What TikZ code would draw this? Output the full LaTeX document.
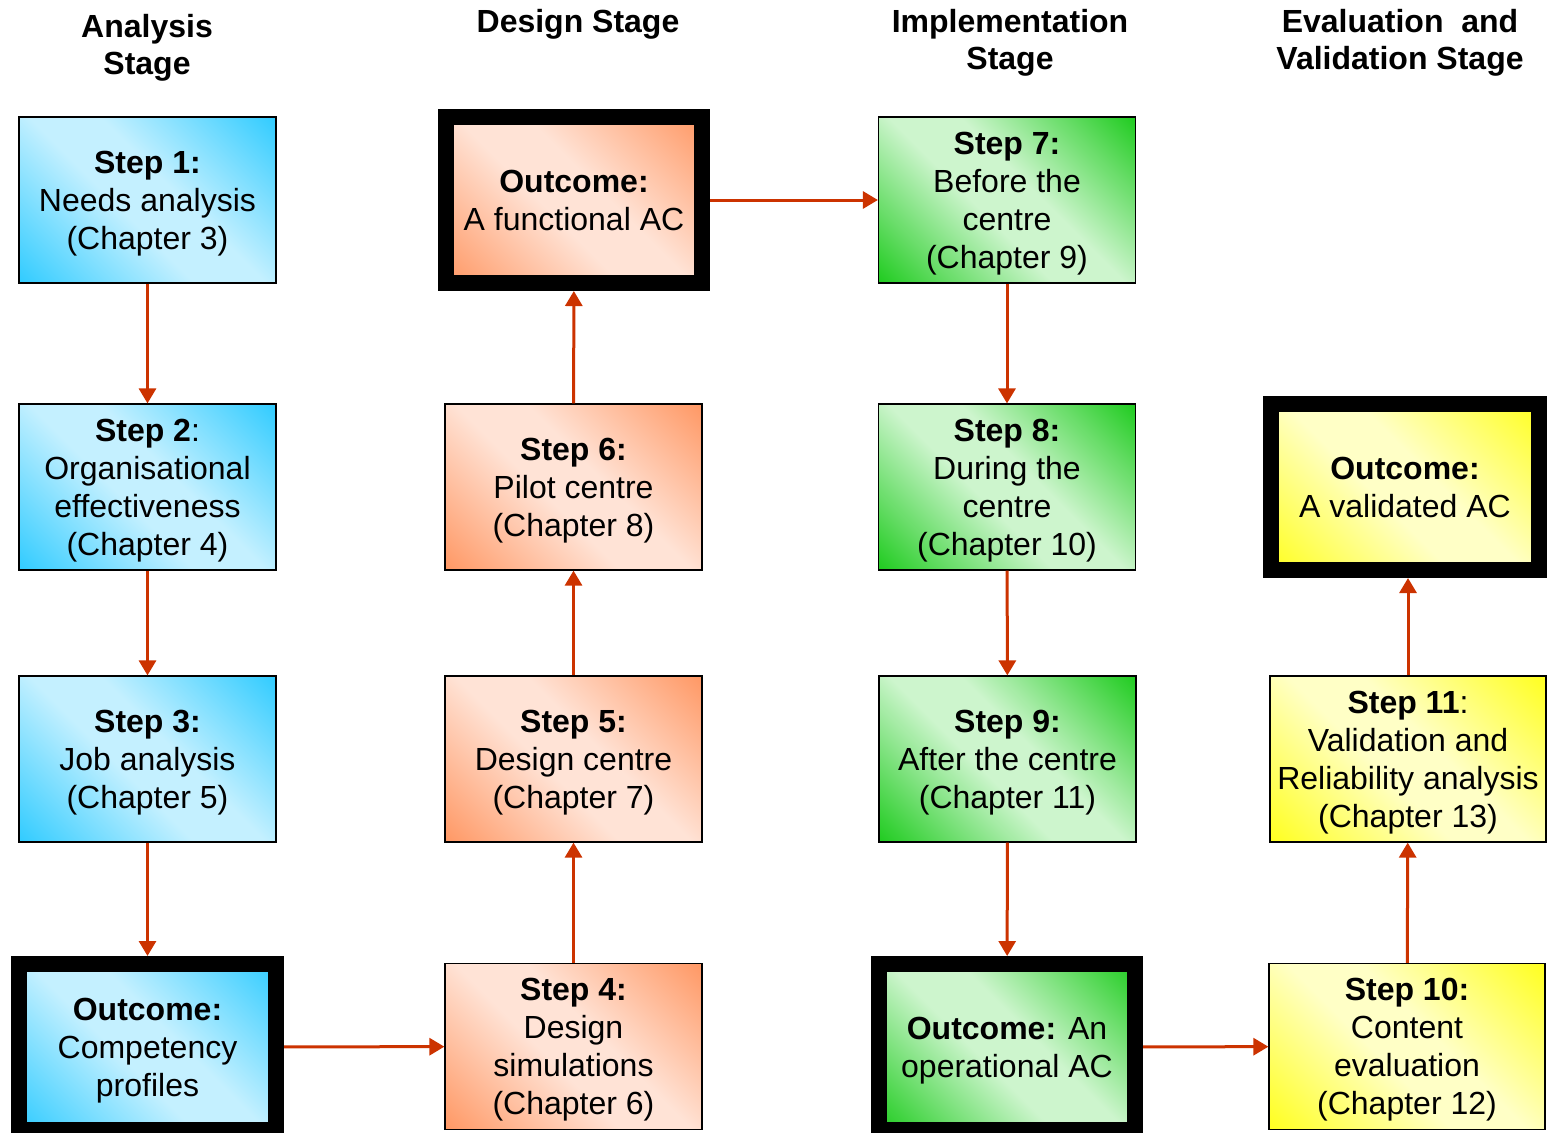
\documentclass[tikz,border=0pt]{standalone}
\usepackage{fontspec}
\setmainfont{Liberation Sans}
\usetikzlibrary{arrows.meta}

\definecolor{bluedeep}{HTML}{33CCFF}
\definecolor{bluelight}{HTML}{C4F0FF}
\definecolor{orangedeep}{HTML}{FF9966}
\definecolor{orangelight}{HTML}{FFE3D6}
\definecolor{greendeep}{HTML}{22CC22}
\definecolor{greenlight}{HTML}{CDF5CD}
\definecolor{yellowdeep}{HTML}{FFFF22}
\definecolor{yellowlight}{HTML}{FFFFC6}
\definecolor{arrowred}{HTML}{CC3300}

\pgfdeclarehorizontalshading{blueshade}{100bp}{color(0bp)=(bluedeep); color(15bp)=(bluedeep); color(44bp)=(bluelight); color(56bp)=(bluelight); color(85bp)=(bluedeep); color(100bp)=(bluedeep)}
\pgfdeclarehorizontalshading{orangeshade}{100bp}{color(0bp)=(orangedeep); color(15bp)=(orangedeep); color(44bp)=(orangelight); color(56bp)=(orangelight); color(85bp)=(orangedeep); color(100bp)=(orangedeep)}
\pgfdeclarehorizontalshading{greenshade}{100bp}{color(0bp)=(greendeep); color(15bp)=(greendeep); color(44bp)=(greenlight); color(56bp)=(greenlight); color(85bp)=(greendeep); color(100bp)=(greendeep)}
\pgfdeclarehorizontalshading{yellowshade}{100bp}{color(0bp)=(yellowdeep); color(15bp)=(yellowdeep); color(44bp)=(yellowlight); color(56bp)=(yellowlight); color(85bp)=(yellowdeep); color(100bp)=(yellowdeep)}

\begin{document}
\begin{tikzpicture}[x=0.5pt, y=-0.5pt,
  box/.style={draw=black, line width=0.6pt, minimum width=128.5pt, minimum height=83pt,
    inner sep=0pt, align=center, text depth=-0.5pt, shading angle=45,
    font=\fontsize{16}{19}\selectfont},
  outcome/.style={box, line width=8pt},
  link/.style={draw=arrowred, line width=1.5pt, -{Triangle[width=8.5pt,length=7.5pt]}},
  head/.style={align=center, font=\bfseries\fontsize{16}{18.5}\selectfont}]
\useasboundingbox (0,0) rectangle (1547,1132);

% stage titles
\node[head] (hanalysis) at (147,48)  {Analysis\\Stage};
\node[head] (hdesign)   at (578,24)  {Design Stage};
\node[head] (himpl)     at (1010,43) {Implementation\\Stage};
\node[head] (heval)     at (1400,43) {Evaluation~ and\\Validation Stage};

% analysis
\node[box, shading=blueshade] (s1) at (147.5,200) {\textbf{Step 1:}\\Needs analysis\\(Chapter 3)};
\node[box, shading=blueshade] (s2) at (147.5,487) {\textbf{Step 2}:\\Organisational\\effectiveness\\(Chapter 4)};
\node[box, shading=blueshade] (s3) at (147.5,759) {\textbf{Step 3:}\\Job analysis\\(Chapter 5)};
\node[outcome, shading=blueshade] (o1) at (147.5,1047) {\textbf{Outcome:}\\Competency\\profiles};

% design
\node[box, shading=orangeshade] (s4) at (573.5,1046.5) {\textbf{Step 4:}\\Design\\simulations\\(Chapter 6)};
\node[box, shading=orangeshade] (s5) at (573.5,759) {\textbf{Step 5:}\\Design centre\\(Chapter 7)};
\node[box, shading=orangeshade] (s6) at (573.5,487) {\textbf{Step 6:}\\Pilot centre\\(Chapter 8)};
\node[outcome, shading=orangeshade, minimum width=128pt] (o2) at (574,200) {\textbf{Outcome:}\\A functional AC};

% implementation
\node[box, shading=greenshade] (s7) at (1007,200) {\textbf{Step 7:}\\Before the\\centre\\(Chapter 9)};
\node[box, shading=greenshade] (s8) at (1007,487) {\textbf{Step 8:}\\During the\\centre\\(Chapter 10)};
\node[box, shading=greenshade] (s9) at (1007.5,759) {\textbf{Step 9:}\\After the centre\\(Chapter 11)};
\node[outcome, shading=greenshade, minimum width=128pt] (o3) at (1007,1047) {\textbf{Outcome:} An\\operational AC};

% evaluation
\node[box, shading=yellowshade, minimum width=138pt] (s10) at (1407,1046.5) {\textbf{Step 10:}\\Content\\evaluation\\(Chapter 12)};
\node[box, shading=yellowshade, minimum width=138pt] (s11) at (1408,759) {\textbf{Step 11}:\\Validation and\\Reliability analysis\\(Chapter 13)};
\node[outcome, shading=yellowshade, minimum width=134pt] (o4) at (1405,487) {\textbf{Outcome:}\\A validated AC};

% connectors
\draw[link] (s1) -- (s2);
\draw[link] (s2) -- (s3);
\draw[link] (s3) -- (o1);
\draw[link] (o1) -- (s4);
\draw[link] (s4) -- (s5);
\draw[link] (s5) -- (s6);
\draw[link] (s6) -- (o2);
\draw[link] (o2) -- (s7);
\draw[link] (s7) -- (s8);
\draw[link] (s8) -- (s9);
\draw[link] (s9) -- (o3);
\draw[link] (o3) -- (s10);
\draw[link] (s10) -- (s11);
\draw[link] (s11) -- (s11.north |- o4.south);
\end{tikzpicture}
\end{document}
